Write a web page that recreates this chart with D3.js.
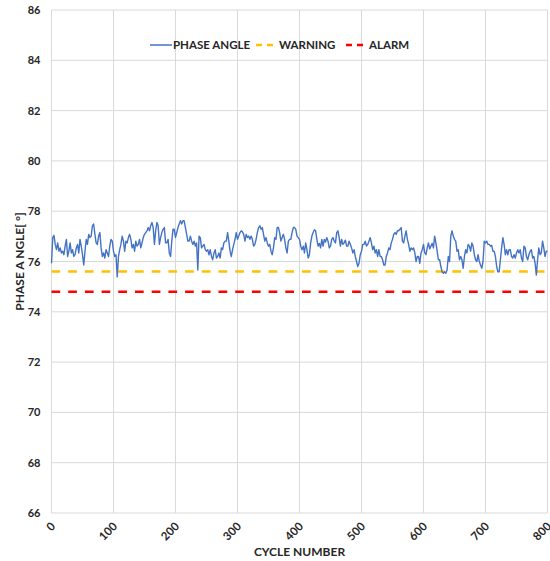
<!DOCTYPE html>
<html>
<head>
<meta charset="utf-8">
<script src="https://cdn.jsdelivr.net/npm/d3@7"></script>
<style>
    body { margin: 0; background: #fff; }
    svg text { font-family: Lato, "Open Sans", sans-serif; font-weight: bold; fill: #262626; }
</style>
</head>
<body>
<svg id="chart" width="550" height="561"></svg>
<script>
// phase angle, one value every 2 cycles (0..800)
let cycleStep = 2
let phaseAngle = [
    75.93, 76.95, 77.04, 76.68, 76.47, 76.74, 76.41, 76.54, 76.34, 76.41,
    76.27, 76.61, 76.88, 76.2, 76.41, 76.74, 76.34, 76.47, 76.2, 76.27,
    76.54, 76.68, 76.34, 76.88, 76.61, 76.27, 75.86, 76.41, 76.88, 76.68,
    77.08, 76.95, 77.01, 77.42, 77.49, 77.08, 76.74, 76.68, 77.01, 77.15,
    76.54, 76.2, 76.34, 76.14, 76.47, 76.34, 76.2, 76.61, 76.88, 76.81,
    76.41, 76.2, 76.27, 75.39, 76.2, 76.47, 76.68, 77.01, 76.81, 76.41,
    76.81, 76.74, 76.95, 77.08, 76.88, 76.54, 76.68, 76.41, 76.81, 76.61,
    76.68, 76.88, 76.54, 76.74, 76.95, 77.08, 77.15, 77.22, 77.35, 77.22,
    77.42, 77.55, 77.35, 76.68, 77.22, 77.55, 77.42, 76.68, 76.95, 77.15,
    77.28, 77.35, 76.74, 76.74, 76.88, 76.34, 76.2, 76.81, 77.28, 77.28,
    76.95, 77.15, 77.35, 77.49, 77.62, 77.49, 77.62, 77.62, 77.35, 77.08,
    76.81, 76.81, 77.01, 76.81, 76.68, 76.81, 76.61, 76.74, 75.66, 77.01,
    76.95, 76.54, 76.61, 76.68, 76.47, 76.41, 76.47, 76.27, 76.47, 76.2,
    76.07, 76.34, 76.47, 76.14, 76.2, 76.34, 76.14, 76.54, 76.47, 76.74,
    76.81, 76.81, 77.15, 76.81, 76.41, 76.2, 76.47, 76.68, 76.88, 77.15,
    76.88, 77.01, 77.15, 77.22, 77.18, 77.08, 76.81, 77.08, 76.95, 77.01,
    76.88, 77.01, 76.88, 76.61, 76.68, 76.88, 77.15, 77.35, 77.42, 77.28,
    77.35, 77.08, 76.81, 76.95, 76.74, 76.61, 76.68, 76.41, 76.27, 76.54,
    76.95, 76.88, 77.35, 77.35, 77.15, 76.81, 76.95, 77.08, 76.88, 76.54,
    76.34, 76.81, 76.88, 76.88, 77.15, 77.35, 77.35, 77.28, 77.01, 76.95,
    76.88, 76.61, 76.47, 76.61, 76.34, 76.74, 76.47, 76.14, 76.27, 76.74,
    77.01, 77.15, 77.26, 77.22, 76.88, 76.61, 76.72, 76.54, 76.88, 76.61,
    76.88, 76.77, 76.95, 76.81, 76.54, 76.61, 76.88, 76.95, 76.81, 76.74,
    77.15, 77.22, 76.95, 76.61, 76.88, 76.68, 76.74, 76.85, 76.61, 76.61,
    76.81, 76.68, 76.54, 76.34, 76.47, 76.2, 76.0, 75.8, 75.93, 76.27,
    76.41, 76.68, 76.68, 76.81, 76.61, 76.68, 76.81, 76.95, 76.74, 76.47,
    76.61, 76.34, 76.47, 76.2, 76.47, 76.2, 76.2, 76.07, 75.86, 75.86,
    76.2, 76.34, 76.54, 76.47, 76.74, 76.88, 77.08, 77.15, 77.08, 77.22,
    77.22, 77.28, 77.35, 76.81, 76.74, 77.01, 77.22, 76.88, 76.68, 76.41,
    76.54, 76.47, 76.54, 76.34, 76.0, 76.2, 76.2, 75.93, 76.34, 76.47,
    76.68, 76.34, 76.27, 76.54, 76.74, 76.5, 76.61, 76.72, 76.54, 77.01,
    76.74, 76.41, 76.07, 76.07, 75.8, 75.59, 75.53, 75.59, 75.53, 75.66,
    76.2, 76.0, 77.01, 77.22, 77.01, 76.88, 76.81, 76.41, 76.47, 76.07,
    76.2, 76.07, 75.73, 76.2, 76.47, 76.34, 76.68, 76.61, 76.41, 76.74,
    76.61, 76.27, 76.07, 76.0, 76.27, 76.0, 75.86, 75.73, 76.0, 76.81,
    76.74, 76.81, 76.68, 76.68, 76.61, 76.64, 76.41, 76.41, 76.2, 75.8,
    75.59, 75.59, 76.07, 76.54, 76.95, 76.68, 76.27, 76.47, 76.27, 76.47,
    76.47, 76.2, 76.14, 76.27, 76.14, 76.34, 76.47, 76.34, 76.47, 76.14,
    76.0, 76.61, 76.54, 76.2, 76.07, 76.27, 76.41, 76.47, 76.14, 76.2,
    75.93, 75.46, 76.07, 76.54, 76.27, 76.34, 76.81, 76.54, 76.2, 76.41,
    76.4
]
let warningLevel = 75.6
let alarmLevel = 74.8
let xTicks = [0, 100, 200, 300, 400, 500, 600, 700, 800]
let yTicks = [66, 68, 70, 72, 74, 76, 78, 80, 82, 84, 86]
let legendLabels = ['PHASE ANGLE', 'WARNING', 'ALARM']

function main() {
    let svg = d3.select('#chart'),
        margin = {top: 10, bottom: 48, left: 51.5, right: 2.5},
        width = svg.attr('width') - margin.left - margin.right,
        height = svg.attr('height') - margin.top - margin.bottom

    let xScale = d3.scaleLinear().domain([0, 800]).range([margin.left, margin.left + width]),
        yScale = d3.scaleLinear().domain([66, 86]).range([margin.top + height, margin.top])

    let data = phaseAngle.map((v, i) => ({cycle: i * cycleStep, value: v}))

    // grid
    svg.append('g')
        .selectAll('line')
        .data(yTicks)
        .enter()
        .append('line')
        .attr('x1', margin.left).attr('x2', margin.left + width)
        .attr('y1', d => yScale(d)).attr('y2', d => yScale(d))
        .attr('stroke', '#d9d9d9')
    svg.append('g')
        .selectAll('line')
        .data(xTicks)
        .enter()
        .append('line')
        .attr('x1', d => xScale(d)).attr('x2', d => xScale(d))
        .attr('y1', margin.top).attr('y2', margin.top + height)
        .attr('stroke', '#d9d9d9')

    // axes
    let yAxis = svg.append('g')
        .attr('transform', 'translate(' + margin.left + ', 0)')
        .call(d3.axisLeft(yScale).tickValues(yTicks).tickSize(0).tickPadding(11))
    yAxis.select('.domain').remove()
    yAxis.selectAll('text').attr('font-size', 11).style('font-family', null)

    let xAxis = svg.append('g')
        .attr('transform', 'translate(0, ' + (margin.top + height) + ')')
        .call(d3.axisBottom(xScale).tickValues(xTicks).tickSize(0))
    xAxis.select('.domain').remove()
    xAxis.selectAll('text')
        .attr('font-size', 11.5)
        .style('font-family', null)
        .attr('text-anchor', 'end')
        .attr('dy', 0)
        .attr('y', 0)
        .attr('transform', 'translate(4, 14) rotate(-45)')

    // limits
    svg.append('line')
        .attr('x1', margin.left).attr('x2', margin.left + width)
        .attr('y1', yScale(warningLevel)).attr('y2', yScale(warningLevel))
        .attr('stroke', '#ffc000').attr('stroke-width', 2.5)
        .attr('stroke-dasharray', '8.7 8')
    svg.append('line')
        .attr('x1', margin.left).attr('x2', margin.left + width)
        .attr('y1', yScale(alarmLevel)).attr('y2', yScale(alarmLevel))
        .attr('stroke', '#ff0000').attr('stroke-width', 2.5)
        .attr('stroke-dasharray', '8.7 8')

    // phase angle
    svg.append('path')
        .datum(data)
        .attr('fill', 'none')
        .attr('stroke', '#4472c4')
        .attr('stroke-width', 1.4)
        .attr('stroke-linejoin', 'round')
        .attr('d', d3.line().x(d => xScale(d.cycle)).y(d => yScale(d.value)))

    // legend
    let legendX = [150, 256, 346],
        legendColors = ['#4472c4', '#ffc000', '#ff0000'],
        legend = svg.append('g').attr('transform', 'translate(0, 45)')
    legendLabels.forEach((label, i) => {
        legend.append('line')
            .attr('x1', legendX[i]).attr('x2', legendX[i] + 22)
            .attr('stroke', legendColors[i])
            .attr('stroke-width', i == 0 ? 1.5 : 2.5)
            .attr('stroke-dasharray', i == 0 ? null : '6 5')
        legend.append('text')
            .attr('x', legendX[i] + 23)
            .attr('dy', '0.35em')
            .attr('font-size', 11.5)
            .text(label)
    })

    // titles
    svg.append('text')
        .attr('text-anchor', 'middle')
        .attr('x', margin.left + width / 2)
        .attr('y', 556)
        .attr('font-size', 12)
        .text('CYCLE NUMBER')
    svg.append('text')
        .attr('text-anchor', 'middle')
        .attr('transform', 'rotate(-90)')
        .attr('x', -(margin.top + height / 2))
        .attr('y', 24)
        .attr('font-size', 12)
        .text('PHASE A NGLE[ °]')
}

main()
</script>
</body>
</html>
